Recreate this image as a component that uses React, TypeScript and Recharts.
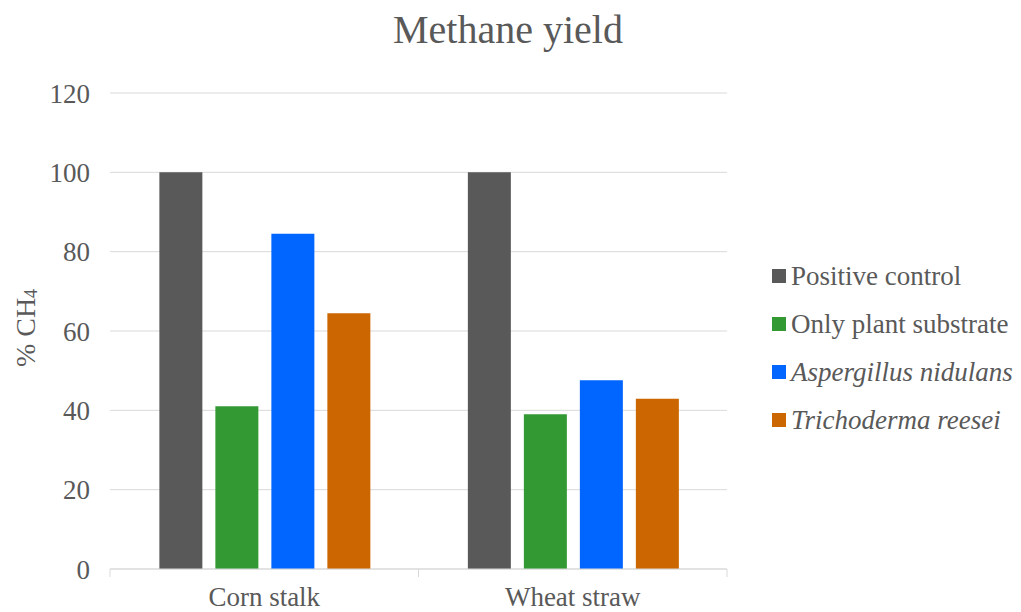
import { Bar, BarChart, CartesianGrid, Legend, XAxis, YAxis } from "recharts";

const categories = ["Corn stalk", "Wheat straw"];
const positiveControl = [100, 100];
const onlyPlantSubstrate = [41, 39];
const aspergillusNidulans = [84.5, 47.6];
const trichodermaReesei = [64.5, 42.9];
const yTicks = [0, 20, 40, 60, 80, 100, 120];

const series = [
  { key: "positive", name: "Positive control", values: positiveControl, color: "#595959", italic: false },
  { key: "plant", name: "Only plant substrate", values: onlyPlantSubstrate, color: "#339933", italic: false },
  { key: "asp", name: "Aspergillus nidulans", values: aspergillusNidulans, color: "#0066ff", italic: true },
  { key: "tri", name: "Trichoderma reesei", values: trichodermaReesei, color: "#cc6600", italic: true },
];

const data = categories.map((c, i) => {
  const row: Record<string, string | number> = { category: c };
  series.forEach((s) => (row[s.key] = s.values[i]));
  return row;
});

const FONT = "Liberation Serif, DejaVu Serif, serif";
const TEXT = "#595959";
const GRID = "#d9d9d9";

function CategoryTick(props: any) {
  const { x, y, payload } = props;
  const off = payload?.offset ?? 0;
  return (
    <g>
      <line x1={x - off} x2={x - off} y1={y} y2={y + 8} stroke={GRID} />
      <line x1={x + off} x2={x + off} y1={y} y2={y + 8} stroke={GRID} />
      <text x={x} y={y + 37} textAnchor="middle" fill={TEXT} fontSize={27} fontFamily={FONT}>
        {payload.value}
      </text>
    </g>
  );
}

function YLabel(props: any) {
  const { viewBox } = props;
  const cx = 25;
  const cy = viewBox.y + viewBox.height / 2 - 3;
  return (
    <text
      x={cx}
      y={cy}
      transform={`rotate(-90, ${cx}, ${cy})`}
      textAnchor="middle"
      dominantBaseline="central"
      fill={TEXT}
      fontSize={28}
      fontFamily={FONT}
    >
      % CH<tspan fontSize={18} dy={6}>4</tspan>
    </text>
  );
}

function LegendBox() {
  return (
    <div style={{ fontFamily: FONT, color: TEXT, fontSize: 27 }}>
      {series.map((s) => (
        <div key={s.key} style={{ display: "flex", alignItems: "center", height: 48, whiteSpace: "nowrap" }}>
          <span style={{ width: 14, height: 14, background: s.color, marginRight: 5, display: "inline-block" }} />
          <span style={{ fontStyle: s.italic ? "italic" : "normal" }}>{s.name}</span>
        </div>
      ))}
    </div>
  );
}

export default function App() {
  return (
    <div style={{ position: "absolute", left: 0, top: 0, width: 1021, height: 612, background: "#fff" }}>
      <div
        style={{
          position: "absolute",
          left: 0,
          width: 1016,
          top: 6,
          textAlign: "center",
          fontFamily: FONT,
          fontSize: 40,
          color: TEXT,
          zIndex: 2,
        }}
      >
        Methane yield
      </div>
      <BarChart
        width={1021}
        height={612}
        data={data}
        margin={{ top: 93, right: 294, left: 0, bottom: 0 }}
        barCategoryGap="16%"
        barGap={13}
      >
        <CartesianGrid vertical={false} stroke={GRID} />
        <XAxis
          dataKey="category"
          height={43}
          axisLine={{ stroke: GRID }}
          tickLine={false}
          tickSize={0}
          tickMargin={0}
          tick={<CategoryTick />}
          interval={0}
        />
        <YAxis
          width={110}
          domain={[0, 120]}
          ticks={yTicks}
          axisLine={false}
          tickLine={false}
          tickMargin={14}
          tick={{ fill: TEXT, fontSize: 27, fontFamily: FONT }}
          label={{ content: <YLabel /> }}
        />
        <Legend
          layout="horizontal"
          align="center"
          verticalAlign="middle"
          content={<LegendBox />}
          wrapperStyle={{ left: 772, top: 252, width: 250 }}
        />
        {series.map((s) => (
          <Bar key={s.key} dataKey={s.key} name={s.name} fill={s.color} isAnimationActive={false} />
        ))}
      </BarChart>
    </div>
  );
}
